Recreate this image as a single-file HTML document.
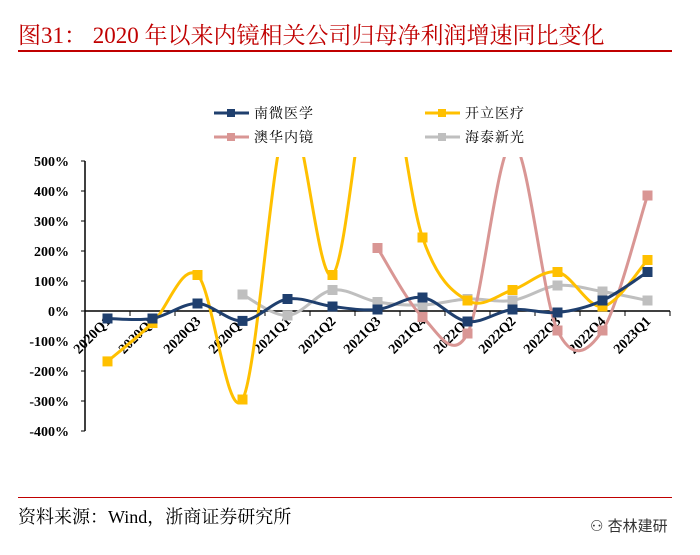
<!DOCTYPE html>
<html><head><meta charset="utf-8"><style>
body{margin:0;background:#fff;width:700px;height:555px;overflow:hidden;position:relative;font-family:"Liberation Serif","Noto Serif CJK SC",serif}
.t{position:absolute;left:18px;top:17px;font-size:23px;color:#c00000;white-space:nowrap}
</style></head><body>
<div class="t">图31： 2020 年以来内镜相关公司归母净利润增速同比变化</div>
<div style="position:absolute;left:18px;top:50px;width:654px;height:2px;background:#c00000"></div>
<div style="position:absolute;left:18px;top:497px;width:654px;height:1px;background:#c00000"></div>
<div style="position:absolute;left:18px;top:503px;font-size:18px;color:#000;font-family:'Liberation Serif','Noto Serif CJK SC',serif">资料来源：Wind，浙商证券研究所</div>
<div style="position:absolute;left:590px;top:515px;font-size:15px;color:#333;font-family:'Liberation Sans','Noto Sans CJK SC',sans-serif">⚇ 杏林建研</div>
<svg id="c" width="700" height="555" style="position:absolute;left:0;top:0" xmlns="http://www.w3.org/2000/svg"></svg>
<script>
const categories=["2020Q1","2020Q2","2020Q3","2020Q4","2021Q1","2021Q2","2021Q3","2021Q4","2022Q1","2022Q2","2022Q3","2022Q4","2023Q1"];
const nanwei=[-25,-25,25,-33,40,15,5,45,-35,5,-5,35,130];
const kaili=[-168,-40,120,-295,650,120,900,245,35,70,130,15,170];
const aohua=[null,null,null,null,null,null,210,-20,-75,560,-65,-65,385];
const haitai=[null,null,null,55,-15,70,30,20,40,35,85,65,35];
const yTicks=[500,400,300,200,100,0,-100,-200,-300,-400];
const seriesNames=["南微医学","开立医疗","澳华内镜","海泰新光"];
const colors=["#1f3f6e","#ffc000","#d99694","#bfbfbf"];
const NS="http://www.w3.org/2000/svg";
const svg=document.getElementById('c');
const X0=85,CW=45,Y0=311,PX=0.3;
const xs=i=>X0+CW*(i+0.5);
const ys=v=>Y0-v*PX;
function el(t,a,p){const e=document.createElementNS(NS,t);for(const k in a)e.setAttribute(k,a[k]);(p||svg).appendChild(e);return e;}
const defs=el('defs',{});
const cp=el('clipPath',{id:'clip'},defs);
el('rect',{x:80,y:ys(500)-4,width:600,height:ys(-400)-ys(500)+8},cp);
const ya=el('line',{x1:X0,y1:ys(500),x2:X0,y2:ys(-400),stroke:'#000','stroke-width':1.5});


yTicks.forEach(v=>{
 const tk=el('line',{x1:X0-4,y1:ys(v),x2:X0,y2:ys(v),stroke:'#000'});
 
 
 const t=el('text',{x:X0-16,y:ys(v)+5,'text-anchor':'end','font-size':14,'font-weight':'bold','font-family':'Liberation Serif,serif'});
 t.textContent=v+'%';
 
 
});
const xa=el('line',{x1:X0,y1:Y0,x2:X0+CW*13,y2:Y0,stroke:'#000','stroke-width':1.5});


categories.forEach((c,i)=>{
 const tk=el('line',{x1:X0+CW*(i+1),y1:Y0,x2:X0+CW*(i+1),y2:Y0+5,stroke:'#000'});
 
 
 const x=xs(i)+4,y=Y0+11;
 const t=el('text',{x:x,y:y,'text-anchor':'end','font-size':14,'font-weight':'bold','font-family':'Liberation Serif,serif',transform:`rotate(-45 ${x} ${y})`});
 t.textContent=c;
 
 
});
function draw(data,color,name){
 const g=el('g',{'clip-path':'url(#clip)'});
 
 
 const pts=[];data.forEach((v,i)=>{if(v!==null)pts.push([xs(i),ys(v)]);});
 let d=`M${pts[0][0]},${pts[0][1]}`;
 for(let i=0;i<pts.length-1;i++){
  const p0=pts[i-1]||pts[i],p1=pts[i],p2=pts[i+1],p3=pts[i+2]||p2;
  d+=` C${p1[0]+(p2[0]-p0[0])/6},${p1[1]+(p2[1]-p0[1])/6} ${p2[0]-(p3[0]-p1[0])/6},${p2[1]-(p3[1]-p1[1])/6} ${p2[0]},${p2[1]}`;
 }
 const l=el('path',{d:d,fill:'none',stroke:color,'stroke-width':3},g);
 
 
 pts.forEach(p=>{
  const m=el('rect',{x:p[0]-5,y:p[1]-5,width:10,height:10,fill:color},g);
  
  
 });
}
draw(haitai,colors[3],'haitai');
draw(aohua,colors[2],'aohua');
draw(kaili,colors[1],'kaili');
draw(nanwei,colors[0],'nanwei');
const lp=[[214,113],[425,113],[214,137],[425,137]];
seriesNames.forEach((n,i)=>{
 const g=el('g',{});
 
 
 const [x,y]=lp[i];
 el('line',{x1:x,y1:y,x2:x+35,y2:y,stroke:colors[i],'stroke-width':3},g);
 el('rect',{x:x+13,y:y-4,width:8,height:8,fill:colors[i]},g);
 const t=el('text',{x:x+40,y:y+5,'font-size':14,'font-family':'Noto Serif CJK SC,serif','letter-spacing':'1'},g);
 t.textContent=n;
});
</script>
</body></html>
